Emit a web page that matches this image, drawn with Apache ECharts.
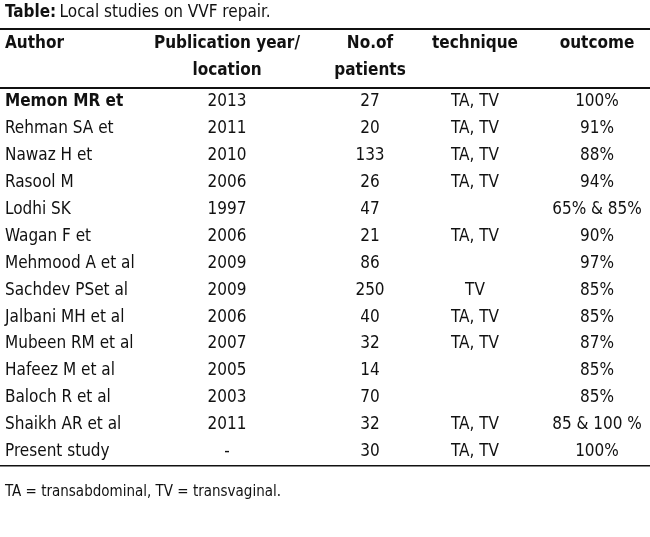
<!DOCTYPE html>
<html><head><meta charset="utf-8">
<script src="https://cdn.jsdelivr.net/npm/echarts@6/dist/echarts.min.js"></script>
<style>html,body{margin:0;padding:0;background:#fff}#c{width:650px;height:537px}</style>
</head><body><div id="c"></div>
<script>
const authors = ["Memon MR et","Rehman SA et","Nawaz H et","Rasool M","Lodhi SK","Wagan F et","Mehmood A et al","Sachdev PSet al","Jalbani MH et al","Mubeen RM et al","Hafeez M et al","Baloch R et al","Shaikh AR et al","Present study"];
const years = ["2013","2011","2010","2006","1997","2006","2009","2009","2006","2007","2005","2003","2011","-"];
const patients = [27,20,133,26,47,21,86,250,40,32,14,70,32,30];
const technique = ["TA, TV","TA, TV","TA, TV","TA, TV","","TA, TV","","TV","TA, TV","TA, TV","","","TA, TV","TA, TV"];
const outcome = ["100%","91%","88%","94%","65% & 85%","90%","97%","85%","85%","87%","85%","85%","85 & 100 %","100%"];
const headers = [["Author"],["Publication year/","location"],["No.of","patients"],["technique"],["outcome"]];

const FONT = '"Liberation Sans Narrow","DejaVu Sans Condensed",sans-serif';
const colX = [5, 227, 370, 475, 597];
const cols = [authors, years, patients, technique, outcome];
const chart = echarts.init(document.getElementById('c'));
const series = cols.map((arr, ci) => ({
  type: 'scatter', symbolSize: 0, silent: true,
  itemStyle: {opacity: 1},
  data: arr.map((v, i) => ({value: [colX[ci], i], txt: String(v)})),
  label: {show: true, position: 'inside', align: ci === 0 ? 'left' : 'center', verticalAlign: 'middle',
    fontFamily: FONT, fontSize: 17, color: '#111', opacity: 1,
    formatter: p => p.data.txt},
}));
series[0].data[0].label = {fontWeight: 'bold'};
const hdrGraphics = [];
headers.forEach((h, ci) => h.forEach((t, li) => hdrGraphics.push({
  type: 'text', x: colX[ci], y: 44 + li * 27,
  style: {text: t, font: 'bold 17px ' + FONT, fill: '#111', textAlign: ci === 0 ? 'left' : 'center', textVerticalAlign: 'middle'}
})));
chart.setOption({
  animation: false,
  grid: {left: 0, right: 0, top: 88.5, height: 376.6},
  xAxis: {type: 'value', min: 0, max: 650, show: false},
  yAxis: {type: 'category', inverse: true, data: authors.map((_, i) => i), show: false},
  series,
  graphic: [
    {type: 'text', x: 5, y: 13, style: {rich: {b: {font: 'bold 17px ' + FONT, fill: '#111'}, n: {font: '17px ' + FONT, fill: '#111'}}, text: '{b|Table:} {n|Local studies on VVF repair.}', textVerticalAlign: 'middle'}},
    {type: 'rect', shape: {x: 0, y: 28, width: 650, height: 2}, style: {fill: '#111'}},
    {type: 'rect', shape: {x: 0, y: 87, width: 650, height: 2}, style: {fill: '#111'}},
    {type: 'rect', shape: {x: 0, y: 465, width: 650, height: 1.5}, style: {fill: '#111'}},
    {type: 'text', x: 5, y: 492, style: {text: 'TA = transabdominal, TV = transvaginal.', font: '15px ' + FONT, fill: '#111', textVerticalAlign: 'middle'}},
    ...hdrGraphics
  ]
});
</script></body></html>
